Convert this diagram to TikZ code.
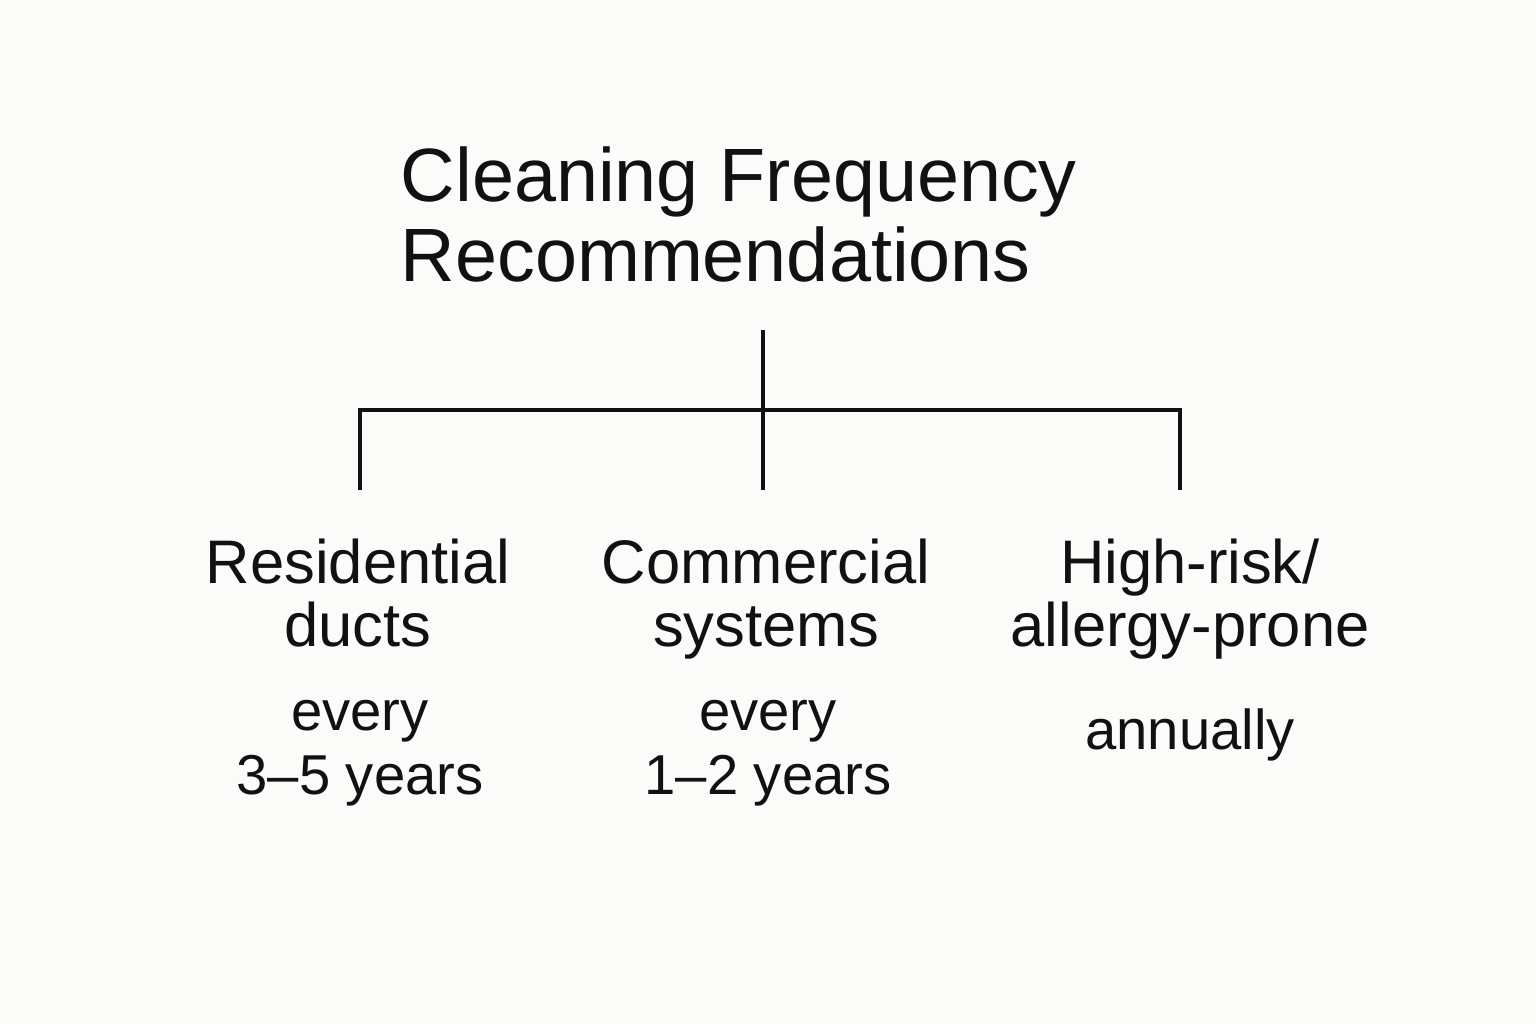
\documentclass[tikz,border=0pt]{standalone}
\usepackage{fontspec}
\setmainfont{Liberation Sans}
\usetikzlibrary{positioning,calc}
\definecolor{paper}{HTML}{FBFBF9}
\definecolor{ink}{HTML}{111111}

\begin{document}
\begin{tikzpicture}[
    title/.style={font=\fontsize{21.5}{22.8}\selectfont,align=left,text=ink,inner sep=0pt},
    cat/.style={font=\fontsize{17.5}{18}\selectfont,align=center,text=ink,inner sep=0pt,anchor=north},
    freq/.style={font=\fontsize{16}{18}\selectfont,align=center,text=ink,inner sep=0pt,anchor=north},
    link/.style={draw=ink,line width=1.2pt}
  ]
    % page
    \fill[paper] (0,0) rectangle (15.36,10.24);
    \useasboundingbox (0,0) rectangle (15.36,10.24);

    % Title
    \node[title,anchor=north west] (t) at (4.0,8.78) {Cleaning Frequency\\Recommendations};

    % Tree
    \coordinate (top) at (7.63,6.94);
    \coordinate (j) at (7.63,6.14);
    \coordinate (l) at (3.60,6.14);
    \coordinate (r) at (11.80,6.14);
    \coordinate (d1) at (3.60,5.34);
    \coordinate (d2) at (7.63,5.34);
    \coordinate (d3) at (11.80,5.34);
    \draw[link] (top) -- (d2);
    \draw[link] (d1) -- (l) -- (r) -- (d3);

    % Categories
    \node[cat] (res) at (3.58,4.86) {Residential\\ducts};
    \node[cat] (com) at (7.66,4.86) {Commercial\\systems};
    \node[cat] (hr) at (11.90,4.86) {High-risk/\\allergy-prone};

    % Frequencies
    \node[freq] (fres) at (3.60,3.24) {every\\3--5 years};
    \node[freq] (fcom) at (7.68,3.24) {every\\1--2 years};
    \node[freq] (fhr) at (11.90,3.16) {annually};
\end{tikzpicture}
\end{document}
